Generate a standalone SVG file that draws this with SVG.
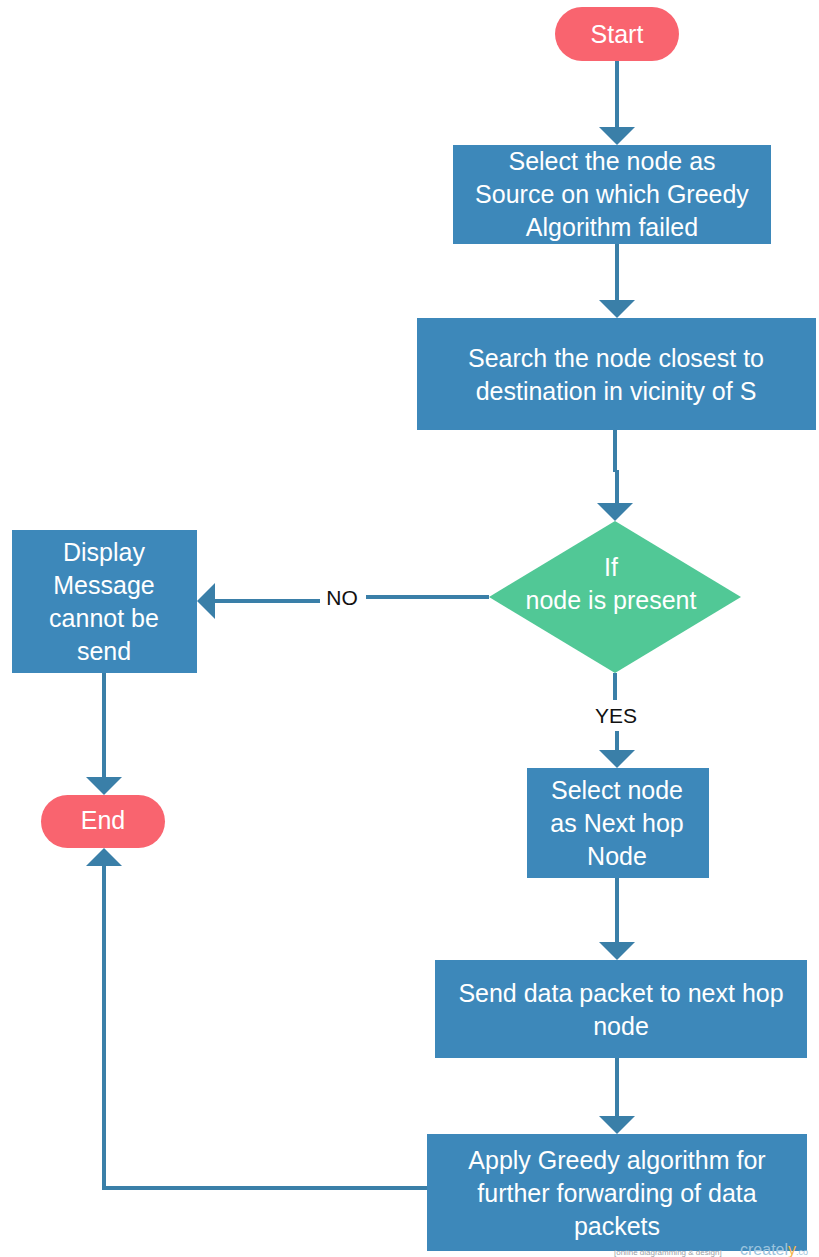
<svg xmlns="http://www.w3.org/2000/svg" width="819" height="1257" viewBox="0 0 819 1257">
  <style>
    .term { fill: #f9646f; }
    .proc { fill: #3d88ba; }
    .dec { fill: #51c896; }
    .lbl { font-family: "Liberation Sans", Arial, sans-serif; font-size: 25px; fill: #ffffff; text-anchor: middle; dominant-baseline: central; }
    .edge { fill: none; stroke: #3a7fa8; stroke-width: 4; }
    .elbl { font-family: "Liberation Sans", Arial, sans-serif; font-size: 21px; fill: #111111; text-anchor: middle; dominant-baseline: central; }
    .head { fill: #3a7fa8; }
  </style>
  <rect width="819" height="1257" fill="#ffffff"/>

  <!-- connectors -->
  <g id="connectors">
    <path class="edge" d="M617 61 V128"/>
    <polygon class="head" points="599,127 635,127 617,145"/>
    <path class="edge" d="M617 244 V301"/>
    <polygon class="head" points="599,300 635,300 617,318"/>
    <path class="edge" d="M615 430 V472 M617 470 V504"/>
    <polygon class="head" points="597,503 633,503 615,521"/>
    <path class="edge" d="M489 597 H366 M320 601 H214"/>
    <polygon class="head" points="215,583 215,619 197,601"/>
    <text class="elbl" x="342" y="597">NO</text>
    <path class="edge" d="M615 673 V700 M617 731 V751"/>
    <text class="elbl" x="616" y="715">YES</text>
    <polygon class="head" points="599,750 635,750 617,768"/>
    <path class="edge" d="M104 673 V778"/>
    <polygon class="head" points="86,777 122,777 104,795"/>
    <path class="edge" d="M617 878 V943"/>
    <polygon class="head" points="599,942 635,942 617,960"/>
    <path class="edge" d="M617 1058 V1117"/>
    <polygon class="head" points="599,1116 635,1116 617,1134"/>
    <path class="edge" d="M427 1188 H104 V865"/>
    <polygon class="head" points="86,866 122,866 104,848"/>
  </g>

  <g id="start">
    <rect class="term" x="555" y="7" width="124" height="54" rx="27"/>
    <text class="lbl" x="617" y="34">Start</text>
  </g>

  <g id="select-source">
    <rect class="proc" x="453" y="145" width="318" height="99"/>
    <text class="lbl" x="612" y="161">Select the node as</text>
    <text class="lbl" x="612" y="194">Source on which Greedy</text>
    <text class="lbl" x="612" y="227">Algorithm failed</text>
  </g>

  <g id="search-closest">
    <rect class="proc" x="417" y="318" width="399" height="112"/>
    <text class="lbl" x="616" y="358">Search the node closest to</text>
    <text class="lbl" x="616" y="391">destination in vicinity of S</text>
  </g>

  <g id="node-present">
    <polygon class="dec" points="615,521 741,597 615,673 489,597"/>
    <text class="lbl" x="611" y="567">If</text>
    <text class="lbl" x="611" y="600">node is present</text>
  </g>

  <g id="display-message">
    <rect class="proc" x="12" y="530" width="185" height="143"/>
    <text class="lbl" x="104" y="552">Display</text>
    <text class="lbl" x="104" y="585">Message</text>
    <text class="lbl" x="104" y="618">cannot be</text>
    <text class="lbl" x="104" y="651">send</text>
  </g>

  <g id="end">
    <rect class="term" x="41" y="795" width="124" height="53" rx="26.5"/>
    <text class="lbl" x="103" y="820">End</text>
  </g>

  <g id="select-next-hop">
    <rect class="proc" x="527" y="768" width="182" height="110"/>
    <text class="lbl" x="617" y="790">Select node</text>
    <text class="lbl" x="617" y="823">as Next hop</text>
    <text class="lbl" x="617" y="856">Node</text>
  </g>

  <g id="send-packet">
    <rect class="proc" x="435" y="960" width="372" height="98"/>
    <text class="lbl" x="621" y="993">Send data packet to next hop</text>
    <text class="lbl" x="621" y="1026">node</text>
  </g>

  <g id="apply-greedy">
    <rect class="proc" x="427" y="1134" width="380" height="117"/>
    <text class="lbl" x="617" y="1160">Apply Greedy algorithm for</text>
    <text class="lbl" x="617" y="1193">further forwarding of data</text>
    <text class="lbl" x="617" y="1226">packets</text>
  </g>

  <!-- footer mark -->
  <g id="footer" font-family="'Liberation Sans', Arial, sans-serif">
    <text x="614" y="1255" font-size="8" fill="#9aa0a6">[online diagramming &amp; design]</text>
    <text x="740" y="1255" font-size="16" fill="#9bc3dd">createl<tspan fill="#f5b54a">y</tspan><tspan font-size="9">.co</tspan></text>
  </g>
</svg>
